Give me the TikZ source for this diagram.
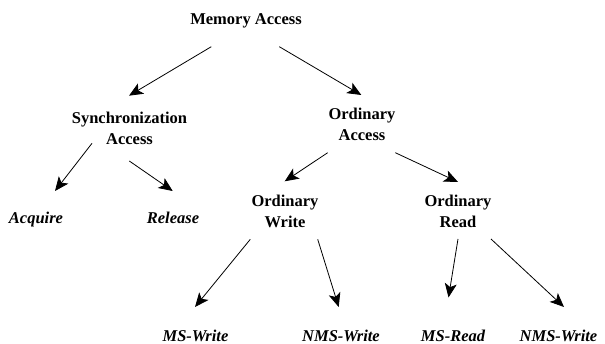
\documentclass[tikz,border=0pt]{standalone}
\usepackage{fontspec}
\setmainfont{Liberation Serif}
\usetikzlibrary{arrows.meta}
\tikzset{
  inner/.style={font=\bfseries\fontsize{16.5}{21}\selectfont, align=center, inner sep=0pt},
  leaf/.style={font=\bfseries\itshape\fontsize{16.5}{21}\selectfont, inner sep=0pt, anchor=base},
  arr/.style={line width=0.8pt, -{Stealth[length=14pt,width=12pt,inset=3.5pt]}}
}
\begin{document}
\begin{tikzpicture}[x=1pt,y=-1pt]
\useasboundingbox (0,0) rectangle (605,344);
\node[inner, anchor=base] (ma) at (246,24.3) {Memory Access};
\node[inner] (sa) at (129.5,128.5) {Synchronization\\Access};
\node[inner] (oa) at (362,124.5) {Ordinary\\Access};
\node[leaf] (acq) at (36,224) {Acquire};
\node[leaf] (rel) at (173,224) {Release};
\node[inner] (ow) at (285,211.5) {Ordinary\\Write};
\node[inner] (or) at (458,211) {Ordinary\\Read};
\node[leaf] (msw) at (195.5,341.5) {MS-Write};
\node[leaf] (nmsw) at (341,341.5) {NMS-Write};
\node[leaf] (msr) at (453,341.5) {MS-Read};
\node[leaf] (nmsw2) at (558.5,341.5) {NMS-Write};

\draw[arr] ([shift={(-34.7,22.4)}]ma.base) -- ([shift={(-0.5,-32.8)}]sa.center);
\draw[arr] ([shift={(33.3,22.4)}]ma.base) -- ([shift={(-0.7,-29.5)}]oa.center);
\draw[arr] ([shift={(-37.5,14.8)}]sa.center) -- ([shift={(19,-33)}]acq.base);
\draw[arr] ([shift={(-0.2,32.5)}]sa.center) -- ([shift={(-0.3,-33)}]rel.base);
\draw[arr] ([shift={(-34.3,28.2)}]oa.center) -- ([shift={(-0.3,-30.2)}]ow.center);
\draw[arr] ([shift={(33.3,28.2)}]oa.center) -- ([shift={(0,-29)}]or.center);
\draw[arr] ([shift={(-34.7,27.8)}]ow.center) -- ([shift={(-0.5,-34.5)}]msw.base);
\draw[arr] ([shift={(32.7,27.8)}]ow.center) -- ([shift={(-2.3,-34.5)}]nmsw.base);
\draw[arr] ([shift={(0,28)}]or.center) -- ([shift={(-4.5,-44)}]msr.base);
\draw[arr] ([shift={(33,28)}]or.center) -- ([shift={(5.5,-34.5)}]nmsw2.base);
\end{tikzpicture}
\end{document}
